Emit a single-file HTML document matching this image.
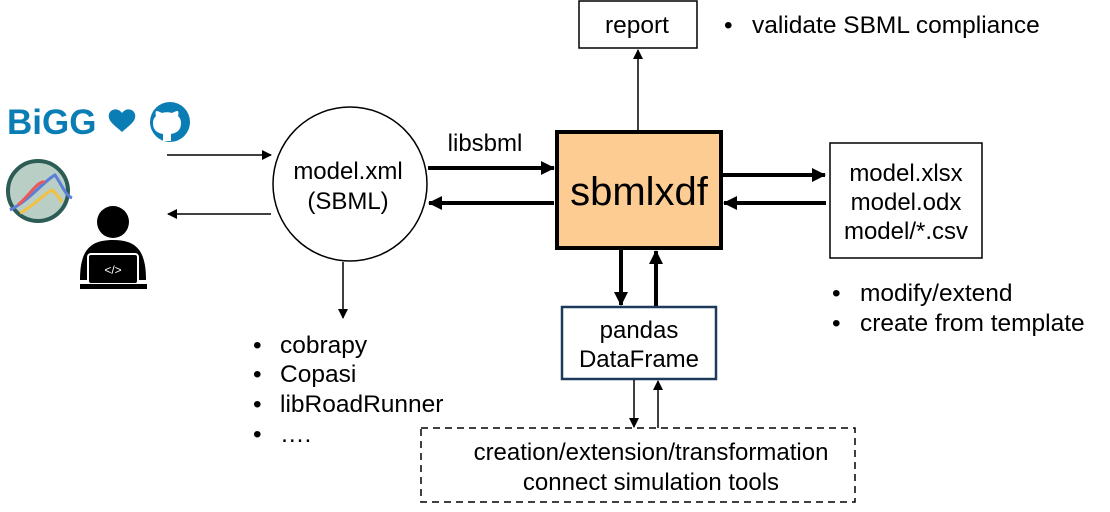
<!DOCTYPE html>
<html><head><style>
body{margin:0;background:#fff}
svg{display:block;font-family:"Liberation Sans",Arial,sans-serif}
</style></head><body>
<svg width="1110" height="512" viewBox="0 0 1110 512" xmlns="http://www.w3.org/2000/svg">
<defs>
<marker id="a" markerWidth="10" markerHeight="10" refX="9" refY="5" orient="auto" markerUnits="userSpaceOnUse"><path d="M0,0 L10,5 L0,10 z" fill="#000"/></marker>
<marker id="b" markerWidth="14" markerHeight="14" refX="13" refY="7" orient="auto" markerUnits="userSpaceOnUse"><path d="M0,0 L14,7 L0,14 z" fill="#000"/></marker>
</defs>
<!-- left icons -->
<text x="7" y="134" font-size="35" font-weight="bold" fill="#0b7db5">BiGG</text>
<path d="M122,113 c-5,-7 -15,-3 -13,5 c1,5 9,10 13,14 c4,-4 12,-9 13,-14 c2,-8 -8,-12 -13,-5z" fill="#0b7db5"/>
<circle cx="170" cy="122" r="20" fill="#0b7db5"/>
<path d="M163,141 v-7 c-6,-1 -10,-4 -10,-11 c0,-3 1,-5 3,-7 c-1,-2 0,-5 0,-5 c2,0 4,1 6,2 c3,-1 7,-1 10,0 c2,-1 4,-2 6,-2 c0,0 1,3 0,5 c2,2 3,4 3,7 c0,7 -4,10 -10,11 v7z" fill="#fff"/>
<circle cx="38" cy="191" r="30" fill="#b9cfc6" stroke="#2d5c55" stroke-width="4"/>
<path d="M10,210 C30,200 45,180 55,175 C62,185 65,195 72,198" stroke="#5a7fd8" stroke-width="3" fill="none"/>
<path d="M18,205 C30,195 38,180 45,182" stroke="#e85a5a" stroke-width="3" fill="none"/>
<path d="M20,213 C35,205 45,193 52,190 C58,195 60,200 62,202" stroke="#f3c142" stroke-width="3" fill="none"/>
<circle cx="113" cy="222" r="16" fill="#000"/>
<path d="M80,280 C80,250 90,240 113,240 C136,240 146,250 146,280 z" fill="#000"/>
<rect x="88" y="254" width="50" height="30" rx="3" fill="#000" stroke="#fff" stroke-width="2"/>
<rect x="80" y="284" width="67" height="5" fill="#000"/>
<text x="113" y="274" font-size="12" fill="#fff" text-anchor="middle">&lt;/&gt;</text>
<!-- left arrows -->
<line x1="167" y1="155" x2="271" y2="155" stroke="#000" stroke-width="1.5" marker-end="url(#a)"/>
<line x1="271" y1="214" x2="168" y2="214" stroke="#000" stroke-width="1.5" marker-end="url(#a)"/>
<!-- circle -->
<circle cx="350" cy="184" r="77" fill="#fff" stroke="#000" stroke-width="1.5"/>
<text x="348" y="179" font-size="24" text-anchor="middle">model.xml</text>
<text x="348" y="209" font-size="24" text-anchor="middle">(SBML)</text>
<line x1="343" y1="262" x2="343" y2="318" stroke="#000" stroke-width="1.5" marker-end="url(#a)"/>
<g font-size="24.5">
<text x="253" y="353">•</text><text x="280" y="353">cobrapy</text>
<text x="253" y="382">•</text><text x="280" y="382">Copasi</text>
<text x="253" y="412">•</text><text x="280" y="412">libRoadRunner</text>
<text x="253" y="442">•</text><text x="280" y="442">….</text>
</g>
<!-- libsbml -->
<text x="485" y="151" font-size="24" text-anchor="middle">libsbml</text>
<line x1="428" y1="168" x2="554" y2="168" stroke="#000" stroke-width="4" marker-end="url(#b)"/>
<line x1="554" y1="203" x2="429" y2="203" stroke="#000" stroke-width="4" marker-end="url(#b)"/>
<!-- sbmlxdf -->
<rect x="557" y="132" width="164" height="116" fill="#fdcc92" stroke="#000" stroke-width="4"/>
<text x="639" y="205" font-size="40" text-anchor="middle">sbmlxdf</text>
<!-- report -->
<line x1="638" y1="130" x2="638" y2="50" stroke="#000" stroke-width="1.5" marker-end="url(#a)"/>
<rect x="579" y="1" width="118" height="47" fill="#fff" stroke="#000" stroke-width="1.5"/>
<text x="637" y="33" font-size="24.5" text-anchor="middle">report</text>
<text x="724" y="33" font-size="24.5">•</text><text x="752" y="33" font-size="24.5">validate SBML compliance</text>
<!-- right -->
<line x1="723" y1="175" x2="825" y2="175" stroke="#000" stroke-width="4" marker-end="url(#b)"/>
<line x1="826" y1="203" x2="724" y2="203" stroke="#000" stroke-width="4" marker-end="url(#b)"/>
<rect x="830" y="143" width="152" height="115" fill="#fff" stroke="#000" stroke-width="1.5"/>
<text x="906" y="181" font-size="24" text-anchor="middle">model.xlsx</text>
<text x="906" y="210" font-size="24" text-anchor="middle">model.odx</text>
<text x="906" y="239" font-size="24" text-anchor="middle">model/*.csv</text>
<g font-size="24.5">
<text x="832" y="301">•</text><text x="860" y="301">modify/extend</text>
<text x="832" y="331">•</text><text x="860" y="331">create from template</text>
</g>
<!-- pandas -->
<line x1="621" y1="250" x2="621" y2="305" stroke="#000" stroke-width="4" marker-end="url(#b)"/>
<line x1="656" y1="306" x2="656" y2="251" stroke="#000" stroke-width="4" marker-end="url(#b)"/>
<rect x="562" y="307" width="154" height="72" fill="#fff" stroke="#1d3a5c" stroke-width="2.5"/>
<text x="639" y="338" font-size="24" text-anchor="middle">pandas</text>
<text x="639" y="367" font-size="24" text-anchor="middle">DataFrame</text>
<line x1="634" y1="380" x2="634" y2="427" stroke="#000" stroke-width="1.5" marker-end="url(#a)"/>
<line x1="658" y1="428" x2="658" y2="381" stroke="#000" stroke-width="1.5" marker-end="url(#a)"/>
<!-- dashed -->
<rect x="421" y="428" width="434" height="74" fill="none" stroke="#000" stroke-width="1.5" stroke-dasharray="7,5"/>
<text x="651" y="460" font-size="24" text-anchor="middle">creation/extension/transformation</text>
<text x="651" y="490" font-size="24" text-anchor="middle">connect simulation tools</text>
</svg>
</body></html>
